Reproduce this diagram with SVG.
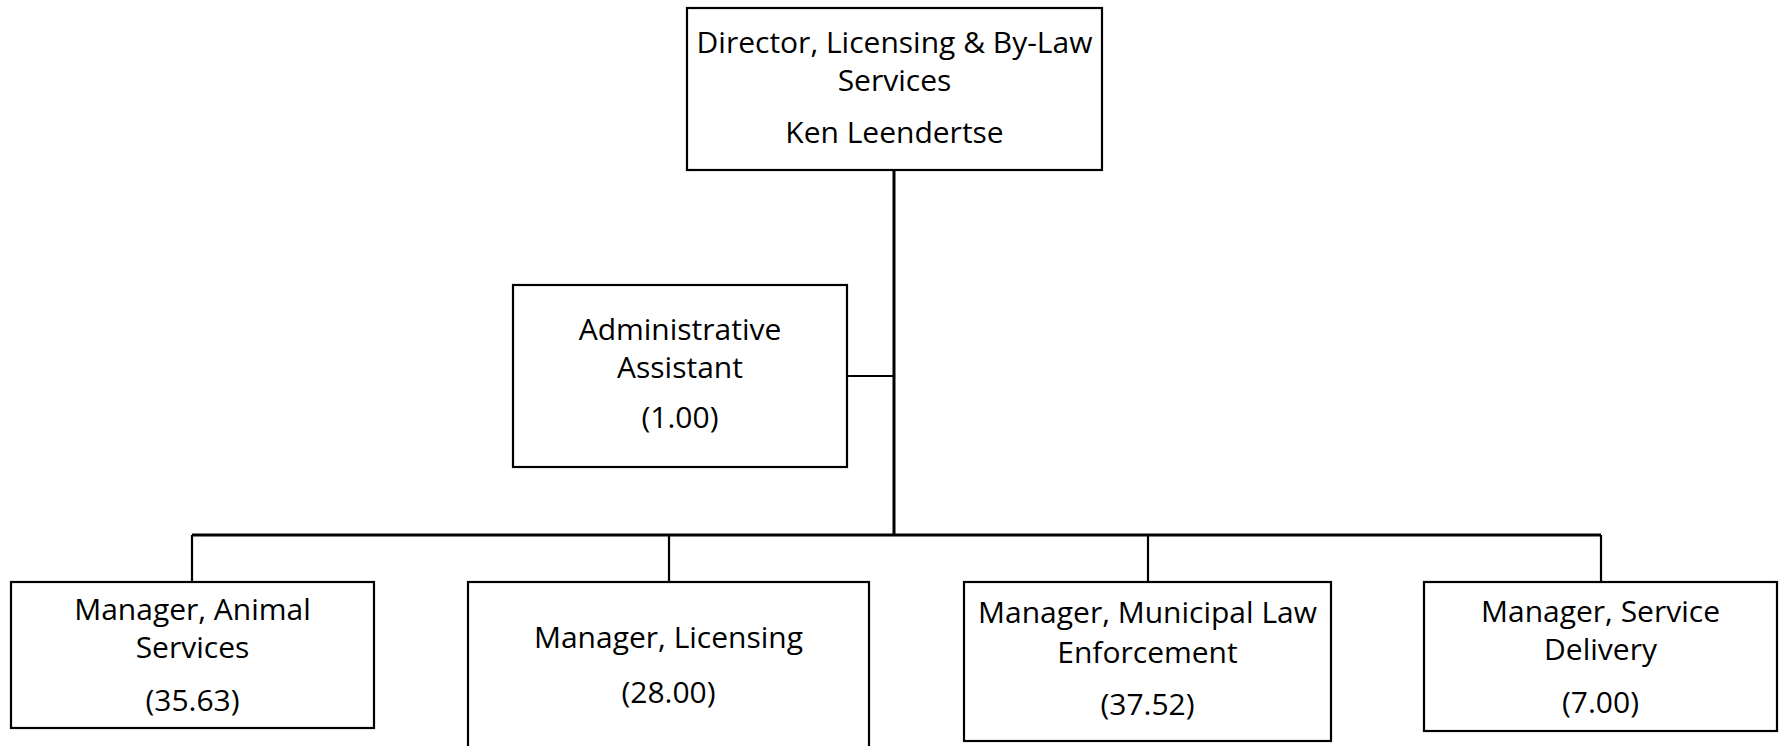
<svg xmlns="http://www.w3.org/2000/svg" width="1781" height="746" viewBox="0 0 1781 746">
  <style>
    .box { fill: #ffffff; stroke: #000000; stroke-width: 2.2; }
    .lbl { font-family: "Open Sans", "Liberation Sans", sans-serif; font-size: 30px; fill: #000000; text-anchor: middle; }
    .wire { fill: none; stroke: #000000; stroke-width: 2.2; }
    .trunk { fill: none; stroke: #000000; stroke-width: 3; }
  </style>
  <rect width="1781" height="746" fill="#ffffff"/>

  <!-- reporting lines -->
  <g id="connectors">
    <line class="trunk" x1="894" y1="170" x2="894" y2="536"/>
    <line class="wire" x1="847" y1="376" x2="894" y2="376"/>
    <line class="trunk" x1="192" y1="535" x2="1601" y2="535"/>
    <line class="wire" x1="192" y1="535" x2="192" y2="582"/>
    <line class="wire" x1="669" y1="535" x2="669" y2="582"/>
    <line class="wire" x1="1148" y1="535" x2="1148" y2="582"/>
    <line class="wire" x1="1601" y1="535" x2="1601" y2="582"/>
  </g>

  <g id="director">
    <rect class="box" x="687" y="8" width="415" height="162"/>
    <text class="lbl" x="894.5" y="53">Director, Licensing &amp; By-Law</text>
    <text class="lbl" x="894.5" y="91">Services</text>
    <text class="lbl" x="894.5" y="143">Ken Leendertse</text>
  </g>

  <g id="admin-assistant">
    <rect class="box" x="513" y="285" width="334" height="182"/>
    <text class="lbl" x="680" y="340">Administrative</text>
    <text class="lbl" x="680" y="378">Assistant</text>
    <text class="lbl" x="680" y="428">(1.00)</text>
  </g>

  <g id="animal-services">
    <rect class="box" x="11" y="582" width="363" height="146"/>
    <text class="lbl" x="192.5" y="620">Manager, Animal</text>
    <text class="lbl" x="192.5" y="658">Services</text>
    <text class="lbl" x="192.5" y="711">(35.63)</text>
  </g>

  <g id="licensing">
    <rect class="box" x="468" y="582" width="401" height="180"/>
    <text class="lbl" x="668.5" y="648">Manager, Licensing</text>
    <text class="lbl" x="668.5" y="703">(28.00)</text>
  </g>

  <g id="municipal-law">
    <rect class="box" x="964" y="582" width="367" height="159"/>
    <text class="lbl" x="1147.5" y="623">Manager, Municipal Law</text>
    <text class="lbl" x="1147.5" y="663">Enforcement</text>
    <text class="lbl" x="1147.5" y="715">(37.52)</text>
  </g>

  <g id="service-delivery">
    <rect class="box" x="1424" y="582" width="353" height="149"/>
    <text class="lbl" x="1600.5" y="622">Manager, Service</text>
    <text class="lbl" x="1600.5" y="660">Delivery</text>
    <text class="lbl" x="1600.5" y="713">(7.00)</text>
  </g>
</svg>
